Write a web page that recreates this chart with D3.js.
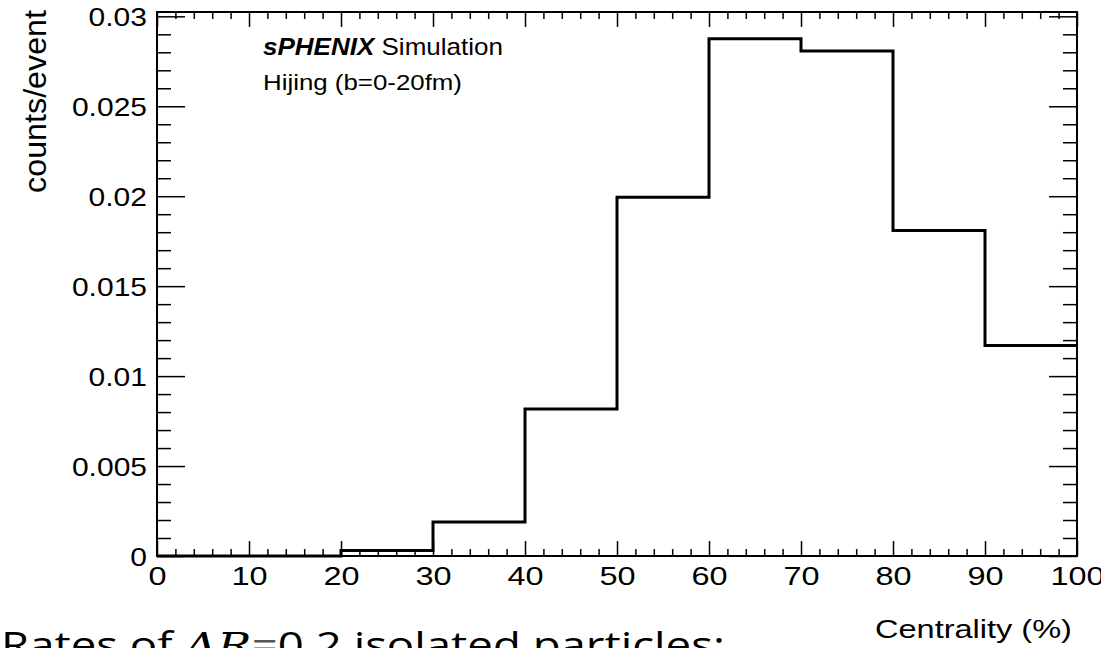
<!DOCTYPE html>
<html>
<head>
<meta charset="utf-8">
<script src="https://cdn.jsdelivr.net/npm/d3@7"></script>
<style>
  body { margin: 0; background: #fff; }
  svg text { font-family: "Liberation Sans", Arial, sans-serif; fill: #000; }
</style>
</head>
<body>
<div id="chart"></div>
<script>
// bin edges (centrality %) and counts per event
var bin_edges  = [0, 10, 20, 30, 40, 50, 60, 70, 80, 90, 100];
var bin_values = [0, 0, 0.0003, 0.00189, 0.00817, 0.01994, 0.02875, 0.02807, 0.0181, 0.0117];
var x_ticks    = [0, 10, 20, 30, 40, 50, 60, 70, 80, 90, 100];
var y_ticks    = [0, 0.005, 0.01, 0.015, 0.02, 0.025, 0.03];
var y_labels   = ["0", "0.005", "0.01", "0.015", "0.02", "0.025", "0.03"];

var width_chart  = 1101;
var height_chart = 648;
var left_chart   = 157;
var right_chart  = 1077;
var top_chart    = 12;
var bottom_chart = 556;

var x_chart = d3.scaleLinear().domain([0, 100]).range([left_chart, right_chart]);
var y_chart = d3.scaleLinear().domain([0, 0.03024]).range([bottom_chart, top_chart]);

var svg_chart = d3.select("#chart").append("svg")
  .attr("width", width_chart)
  .attr("height", height_chart);

var x_minor = d3.range(0, 101, 2).filter(function (d) { return d % 10 !== 0; });
var y_minor = d3.range(0, 31).map(function (d) { return d / 1000; })
  .filter(function (d, i) { return i % 5 !== 0; });

function tick_axis (axis, g) {
  g.call(axis);
  g.select(".domain").remove();
  g.selectAll(".tick line").attr("stroke", "#000").attr("stroke-width", 1.5);
}

// stretch a text horizontally so that it spans target pixels
function fit_text (sel, x, y, target, anchor) {
  sel.attr("x", 0).attr("y", 0).attr("text-anchor", "start");
  var w = sel.node().getComputedTextLength();
  var x_left = anchor === "end" ? x - target : (anchor === "middle" ? x - target/2 : x);
  sel.attr("transform", "translate(" + x_left + "," + y + ") scale(" + (target/w) + ",1)");
}

// bottom axis, ticks pointing inward
tick_axis(d3.axisBottom(x_chart).tickValues(x_minor).tickSize(-7).tickFormat(""),
  svg_chart.append("g").attr("transform", "translate(0," + bottom_chart + ")"));
var x_axis_bottom = svg_chart.append("g").attr("transform", "translate(0," + bottom_chart + ")");
tick_axis(d3.axisBottom(x_chart).tickValues(x_ticks).tickSize(-15), x_axis_bottom);
x_axis_bottom.selectAll("text")
  .attr("font-size", 25).attr("x", 0).attr("y", 0).attr("dy", 0)
  .attr("text-anchor", "middle")
  .attr("transform", "translate(0,29) scale(1.3,1)");

// top axis
tick_axis(d3.axisTop(x_chart).tickValues(x_minor).tickSize(-7).tickFormat(""),
  svg_chart.append("g").attr("transform", "translate(0," + top_chart + ")"));
tick_axis(d3.axisTop(x_chart).tickValues(x_ticks).tickSize(-15).tickFormat(""),
  svg_chart.append("g").attr("transform", "translate(0," + top_chart + ")"));

// left axis
tick_axis(d3.axisLeft(y_chart).tickValues(y_minor).tickSize(-14).tickFormat(""),
  svg_chart.append("g").attr("transform", "translate(" + left_chart + ",0)"));
var y_axis_left = svg_chart.append("g").attr("transform", "translate(" + left_chart + ",0)");
tick_axis(d3.axisLeft(y_chart).tickValues(y_ticks).tickSize(-28)
  .tickFormat(function (d, i) { return y_labels[i]; }), y_axis_left);
y_axis_left.selectAll("text")
  .attr("font-size", 25).attr("x", 0).attr("y", 0).attr("dy", 0)
  .attr("text-anchor", "end")
  .attr("transform", "translate(-10,9) scale(1.2,1)");

// right axis
tick_axis(d3.axisRight(y_chart).tickValues(y_minor).tickSize(-14).tickFormat(""),
  svg_chart.append("g").attr("transform", "translate(" + right_chart + ",0)"));
tick_axis(d3.axisRight(y_chart).tickValues(y_ticks).tickSize(-28).tickFormat(""),
  svg_chart.append("g").attr("transform", "translate(" + right_chart + ",0)"));

// histogram
var step_points = bin_values.map(function (v, i) { return [bin_edges[i], v]; });
step_points.push([bin_edges[bin_edges.length - 1], bin_values[bin_values.length - 1]]);
var line_chart = d3.line()
  .curve(d3.curveStepAfter)
  .x(function (d) { return x_chart(d[0]); })
  .y(function (d) { return y_chart(d[1]); });
svg_chart.append("path")
  .datum(step_points)
  .attr("d", line_chart)
  .attr("fill", "none")
  .attr("stroke", "#000")
  .attr("stroke-width", 3);

// frame
svg_chart.append("rect")
  .attr("x", left_chart).attr("y", top_chart)
  .attr("width", right_chart - left_chart).attr("height", bottom_chart - top_chart)
  .attr("fill", "none").attr("stroke", "#000").attr("stroke-width", 2);

// axis titles
var y_title = svg_chart.append("text")
  .attr("font-size", 31)
  .text("counts/event");
var y_title_w = y_title.node().getComputedTextLength();
y_title.attr("text-anchor", "end")
  .attr("transform", "translate(46,10) rotate(-90) scale(" + (183/y_title_w) + ",1.0)");

fit_text(svg_chart.append("text").attr("font-size", 25).text("Centrality (%)"), 1072, 638, 197, "end");

// label
var label_chart = svg_chart.append("text").attr("font-size", 23);
label_chart.append("tspan").attr("font-weight", "bold").attr("font-style", "italic").text("sPHENIX");
label_chart.append("tspan").text(" Simulation");
fit_text(label_chart, 263, 55, 240, "start");
fit_text(svg_chart.append("text").attr("font-size", 22).text("Hijing (b=0-20fm)"), 263, 90, 199, "start");

// slide caption, partly cut off
var caption_chart = svg_chart.append("text")
  .attr("font-size", 36)
  .style("font-family", "'Open Sans', 'Noto Sans', sans-serif");
caption_chart.append("tspan").text("Rates of ");
caption_chart.append("tspan").attr("font-style", "italic").style("font-family", "'DejaVu Serif', serif").text("ΔR");
caption_chart.append("tspan").attr("fill", "#555").text("=");
caption_chart.append("tspan").text("0.2 isolated particles:");
fit_text(caption_chart, 1, 658, 724, "start");
</script>
</body>
</html>
